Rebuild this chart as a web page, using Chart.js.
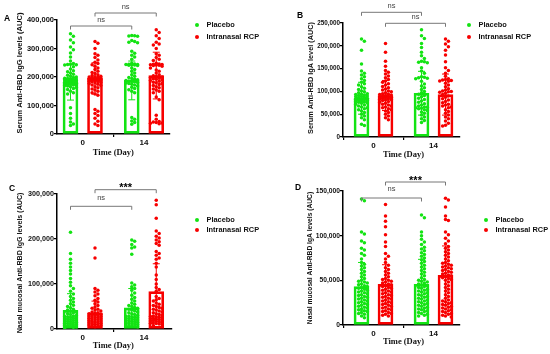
<!DOCTYPE html>
<html><head><meta charset="utf-8">
<script src="https://cdn.jsdelivr.net/npm/chart.js@4.4.1/dist/chart.umd.min.js"></script>
<style>
body{margin:0;background:#fff;width:550px;height:354px;overflow:hidden;position:relative}
canvas{position:absolute;left:0;top:0}
</style></head><body>
<canvas id="cA" width="550" height="354"></canvas>
<canvas id="cB" width="550" height="354"></canvas>
<canvas id="cC" width="550" height="354"></canvas>
<canvas id="cD" width="550" height="354"></canvas>
<script>
// ---------------- DATA ----------------
const groupNames = ['Placebo', 'Intranasal RCP'];
const tickLabels = ['0', '14'];

// Panel A: Serum IgG
const A_placebo0 = [352000,343000,330000,320000,305000,296000,284000,270000,256000,247000,245000,244000,243000,242000,236000,228000,222000,218000,214000,210000,206000,203000,200000,198000,196000,195000,194000,193000,192000,191000,190000,189000,188000,187000,186000,185000,184000,183000,182000,181000,180000,179000,178000,177000,176000,175000,174000,173000,172000,170000,168000,166000,163000,160000,156000,150000,145000,140000,92000,72000,55000,42000,35000,30000];
const A_rcp0 = [325000,318000,300000,282000,276000,268000,260000,252000,247000,243000,238000,232000,226000,220000,216000,212000,208000,205000,203000,201000,200000,199000,198000,197000,196000,195000,194000,193000,192000,191000,190000,189000,188000,187000,186000,185000,184000,183000,181000,179000,177000,175000,172000,170000,166000,162000,158000,154000,150000,145000,140000,136000,86000,80000,72000,65000,55000,45000,35000,30000];
const A_placebo14 = [346000,345000,344000,343000,328000,325000,322000,320000,290000,283000,276000,270000,262000,248000,246000,245000,244000,244000,243000,242000,241000,240000,232000,226000,220000,214000,208000,203000,198000,195000,192000,190000,188000,186000,185000,183000,181000,179000,177000,175000,172000,168000,164000,160000,155000,150000,145000,58000,52000,46000,40000,34000];
const A_rcp14 = [366000,356000,345000,335000,322000,316000,312000,300000,282000,276000,268000,262000,258000,248000,246000,245000,244000,243000,242000,241000,240000,238000,232000,225000,220000,214000,208000,204000,202000,200000,198000,196000,194000,192000,190000,188000,185000,182000,180000,177000,174000,170000,166000,162000,158000,154000,150000,145000,130000,120000,66000,52000,44000,42000,40000,39000,38000,36000];
const A_means = [181000, 195000, 188000, 205000];
const A_sds = [62000, 55000, 68000, 82000];
const A_sig = ['ns', 'ns'];

// Panel B: Serum IgA
const B_placebo0 = [215000,210000,190000,160000,145000,140000,136000,132000,128000,124000,120000,117000,114000,110000,107000,104000,101000,99000,97000,95000,94000,93000,92000,91000,90000,89000,88000,87000,86000,85000,84000,83000,82000,81000,80000,79000,78000,77000,76000,75000,74000,72000,70000,68000,66000,64000,62000,60000,57000,54000,50000,46000,42000,38000,28000,25000];
const B_rcp0 = [205000,186000,166000,155000,146000,142000,138000,134000,130000,126000,123000,120000,117000,114000,111000,108000,105000,103000,101000,99000,97000,95000,94000,93000,92000,91000,90000,89000,88000,87000,86000,85000,84000,83000,82000,81000,80000,78000,76000,74000,72000,70000,68000,66000,64000,62000,60000,57000,54000,50000,46000,42000,38000];
const B_placebo14 = [235000,222000,216000,205000,196000,186000,178000,172000,166000,165000,164000,163000,152000,145000,140000,132000,131000,130000,129000,128000,122000,116000,112000,108000,104000,100000,97000,94000,91000,88000,85000,82000,79000,76000,73000,70000,68000,66000,65000,64000,63000,62000,60000,58000,55000,52000,48000,44000,40000,36000,32000];
const B_rcp14 = [215000,210000,204000,198000,190000,180000,165000,152000,146000,140000,133000,128000,126000,125000,124000,123000,122000,118000,114000,110000,106000,103000,101000,100000,99000,98000,96000,93000,90000,87000,84000,81000,78000,75000,72000,70000,68000,66000,64000,60000,56000,52000,48000,44000,40000,35000,30000,26000,24000];
const B_means = [85000, 91000, 96000, 93000];
const B_sds = [35000, 33000, 48000, 45000];
const B_sig = ['ns', 'ns'];

// Panel C: Nasal mucosal IgG
const C_placebo0 = [215000,168000,155000,146000,138000,130000,122000,112000,104000,96000,90000,84000,78000,72000,68000,64000,60000,56000,53000,50000,47000,44000,42000,40000,38000,36000,34000,32000,30000,29000,28000,27000,26000,25000,24000,23000,22000,21000,20000,19000,18000,17000,16000,15000,14000,13000,12000,11000,10000,9000,8000,7000,6000,5000,4000,3000];
const C_rcp0 = [180000,158000,90000,86000,82000,78000,74000,68000,64000,60000,56000,52000,49000,46000,44000,42000,40000,38000,36000,35000,34000,33000,32000,31000,30000,29000,28000,27000,26000,25000,24000,23000,22000,21000,20000,19000,18000,17000,16000,15000,14000,13000,12000,11000,10000,9000,8000,7000,6000,5000];
const C_placebo14 = [198000,195000,188000,182000,180000,166000,102000,98000,94000,90000,86000,80000,75000,70000,66000,62000,58000,55000,52000,50000,48000,46000,44000,42000,40000,38000,36000,34000,32000,30000,29000,28000,27000,26000,25000,24000,23000,22000,21000,20000,19000,18000,17000,16000,15000,14000,13000,12000,11000,10000,9000,8000,7000,6000,5000];
const C_rcp14 = [286000,276000,246000,218000,212000,206000,202000,198000,194000,190000,186000,172000,168000,164000,158000,155000,146000,138000,120000,110000,100000,92000,88000,84000,72000,68000,65000,62000,58000,55000,52000,50000,48000,46000,44000,42000,40000,38000,36000,34000,32000,30000,29000,28000,27000,26000,25000,24000,23000,22000,21000,20000,19000,18000,17000,16000,15000,14000,13000,12000,11000,10000,8000];
const C_means = [41500, 36000, 47000, 83000];
const C_sds = [37000, 26000, 43000, 62000];
const C_sig = ['ns', '***'];

// Panel D: Nasal mucosal IgA
const D_placebo0 = [141000,139000,104000,102000,94000,92000,86000,84000,80000,78000,74000,70000,68000,66000,64000,62000,60000,58000,56000,54000,52000,50000,49000,48000,47000,46000,45000,44000,43000,42000,41000,40000,39000,38000,37000,36000,35000,34000,33000,32000,31000,30000,29000,28000,27000,26000,25000,24000,23000,22000,21000,20000,19000,18000,17000,16000,15000,14000,13000,12000,10000,8000];
const D_rcp0 = [135000,122000,116000,110000,101000,93000,88000,80000,77000,74000,70000,67000,64000,62000,60000,58000,56000,54000,52000,51000,50000,49000,48000,47000,46000,45000,44000,43000,42000,41000,40000,39000,38000,37000,36000,35000,34000,33000,32000,31000,30000,29000,28000,27000,26000,25000,24000,23000,22000,21000,20000,19000,18000,17000,16000,15000,14000,13000,12000,11000,10000];
const D_placebo14 = [123000,120000,104000,100000,96000,93000,90000,87000,85000,83000,81000,79000,77000,75000,73000,71000,69000,67000,65000,63000,61000,59000,57000,55000,53000,51000,50000,49000,48000,47000,46000,45000,44000,43000,42000,41000,40000,39000,38000,37000,36000,35000,34000,33000,32000,31000,30000,29000,28000,27000,26000,25000,24000,23000,22000,21000,20000,19000,18000,17000,16000,15000,14000,13000,12000,11000,10000];
const D_rcp14 = [142000,140000,132000,122000,118000,117000,104000,101000,97000,94000,91000,88000,86000,84000,82000,80000,78000,76000,74000,72000,70000,69000,68000,67000,66000,65000,64000,63000,62000,61000,60000,59000,58000,57000,56000,55000,54000,53000,52000,51000,50000,48000,46000,44000,42000,40000,38000,36000,34000,32000,30000,28000,27000,26000,25000,24000,23000,22000,21000,20000,19000,18000,17000,16000,15000,14000,13000,12000,11000,10000,9000];
const D_means = [43000, 45500, 45500, 55500];
const D_sds = [27000, 22000, 28000, 33000];
const D_sig = ['ns', '***'];

// ---------------- LAYOUT / STYLE ----------------
const GREEN = '#13e313';
const RED = '#f70000';
const COLORS = [GREEN, RED, GREEN, RED];
const POS = [0, 1, 2.5, 3.5];       // group slots on the x axis
const TICK_POS = [0.5, 3.0];

const panels = [
  { id:'cA', letter:'A', yTitle:'Serum Anti-RBD IgG levels (AUC)', yMax:400000, yStep:100000,
    series:[A_placebo0, A_rcp0, A_placebo14, A_rcp14], means:A_means, sds:A_sds, sig:A_sig,
    L:57, T:20, R:170, B:134, c0:70.5, unit:24.5, tickFont:7.5, titleFont:7.6, titleCY:73,
    letterXY:[7,19], yTitleX:20, xTitleY:153, legendX:197, legendY:[25,37],
    br:{g:26, gl:20, r:13, rl:7} },
  { id:'cB', letter:'B', yTitle:'Serum Anti-RBD IgA level (AUC)', yMax:250000, yStep:50000,
    series:[B_placebo0, B_rcp0, B_placebo14, B_rcp14], means:B_means, sds:B_sds, sig:B_sig,
    L:343, T:23, R:460, B:137, c0:361.5, unit:24, tickFont:6.3, titleFont:7.3, titleCY:78,
    letterXY:[300,16], yTitleX:310.5, xTitleY:155, legendX:469, legendY:[25,37],
    br:{g:12.3, gl:5.5, r:23.3, rl:17} },
  { id:'cC', letter:'C', yTitle:'Nasal mucosal Anti-RBD IgG levels (AUC)', yMax:300000, yStep:100000,
    series:[C_placebo0, C_rcp0, C_placebo14, C_rcp14], means:C_means, sds:C_sds, sig:C_sig,
    L:57, T:194, R:172, B:329, c0:70.5, unit:24.5, tickFont:7.2, titleFont:7.1, titleCY:263,
    letterXY:[12,189], yTitleX:20, xTitleY:346, legendX:197, legendY:[220,230],
    br:{g:206.3, gl:198, r:189.7, rl:184} },
  { id:'cD', letter:'D', yTitle:'Nasal mucosal Anti-RBD IgA levels (AUC)', yMax:150000, yStep:50000,
    series:[D_placebo0, D_rcp0, D_placebo14, D_rcp14], means:D_means, sds:D_sds, sig:D_sig,
    L:343, T:191, R:460, B:325, c0:361.5, unit:24, tickFont:6.7, titleFont:6.7, titleCY:258,
    letterXY:[298,188], yTitleX:310.5, xTitleY:342, legendX:486, legendY:[220,230],
    br:{g:198, gl:189, r:182, rl:177} }
];

const SANS = '"Liberation Sans", Arial, sans-serif';
const SERIF = '"Liberation Serif", "Times New Roman", serif';

// beeswarm layout: horizontal pixel offsets computed from values
function swarm(values, pxPerVal, d, maxOff) {
  const placed = [];
  const offs = new Array(values.length);
  const idx = values.map((v, i) => i).sort((a, b) => values[b] - values[a]);
  const nSteps = 2 * Math.ceil(maxOff / d);
  for (const i of idx) {
    const y = values[i] * pxPerVal;
    let best = 0, bestScore = -1;
    for (let k = 0; k <= nSteps; k++) {
      const o = (k % 2 ? 1 : -1) * Math.ceil(k / 2) * d;
      if (Math.abs(o) > maxOff) continue;
      let minD = Infinity;
      for (const p of placed) {
        const dd = Math.hypot(p.x - o, p.y - y);
        if (dd < minD) minD = dd;
      }
      if (minD >= d) { best = o; bestScore = Infinity; break; }
      if (minD > bestScore) { bestScore = minD; best = o; }
    }
    placed.push({ x: best, y });
    offs[i] = best;
  }
  return offs;
}

function makePanel(p) {
  const W = 40, H = 20;
  const xMin = -(p.c0 - p.L) / p.unit;
  const xMax = (p.R - p.c0) / p.unit;
  const pxPerVal = (p.B - p.T) / p.yMax;

  const barsPlacebo = { type:'bar', order:2, grouped:false, barThickness:15,
    data:[{x:POS[0], y:p.means[0]}, {x:POS[2], y:p.means[2]}],
    backgroundColor:'rgba(255,255,255,0)', borderColor:GREEN, borderWidth:2, borderSkipped:false };
  const barsRcp = { type:'bar', order:2, grouped:false, barThickness:15,
    data:[{x:POS[1], y:p.means[1]}, {x:POS[3], y:p.means[3]}],
    backgroundColor:'rgba(255,255,255,0)', borderColor:RED, borderWidth:2, borderSkipped:false };

  const scatterSets = p.series.map((vals, gi) => {
    const offs = swarm(vals, pxPerVal, 2.9, 6.3);
    return { type:'scatter', order:1,
      data: vals.map((v, i) => ({ x: POS[gi] + offs[i] / p.unit, y: v })),
      backgroundColor: COLORS[gi], borderWidth:0, pointRadius:1.75, pointHoverRadius:1.75 };
  });

  const overlay = {
    id:'overlay',
    afterDatasetsDraw(chart) {
      const ctx = chart.ctx, xs = chart.scales.x, ys = chart.scales.y;
      ctx.save();
      // error bars
      for (let g = 0; g < 4; g++) {
        const cx = xs.getPixelForValue(POS[g]);
        const top = ys.getPixelForValue(p.means[g] + p.sds[g]);
        const bot = ys.getPixelForValue(Math.max(0, p.means[g] - p.sds[g]));
        ctx.strokeStyle = COLORS[g]; ctx.lineWidth = 1;
        ctx.beginPath();
        ctx.moveTo(cx, top); ctx.lineTo(cx, bot);
        ctx.moveTo(cx - 3.5, top); ctx.lineTo(cx + 3.5, top);
        ctx.moveTo(cx - 3.5, bot); ctx.lineTo(cx + 3.5, bot);
        ctx.stroke();
      }
      // significance brackets
      const drawBracket = (g1, g2, y, ly, label) => {
        const x1 = xs.getPixelForValue(POS[g1]), x2 = xs.getPixelForValue(POS[g2]);
        ctx.strokeStyle = '#777'; ctx.lineWidth = 1;
        ctx.beginPath();
        ctx.moveTo(x1, y + 3.5); ctx.lineTo(x1, y); ctx.lineTo(x2, y); ctx.lineTo(x2, y + 3.5);
        ctx.stroke();
        ctx.textAlign = 'center';
        if (label === 'ns') {
          ctx.fillStyle = '#444'; ctx.font = '7.5px ' + SANS; ctx.textBaseline = 'middle';
          ctx.fillText(label, (x1 + x2) / 2, ly);
        } else {
          ctx.fillStyle = '#000'; ctx.font = 'bold 11px ' + SANS; ctx.textBaseline = 'alphabetic';
          ctx.fillText(label, (x1 + x2) / 2, ly + 6.5);
        }
      };
      drawBracket(0, 2, p.br.g, p.br.gl, p.sig[0]);
      drawBracket(1, 3, p.br.r, p.br.rl, p.sig[1]);

      // panel letter
      ctx.fillStyle = '#000'; ctx.font = 'bold 8.5px ' + SANS;
      ctx.textAlign = 'center'; ctx.textBaseline = 'middle';
      ctx.fillText(p.letter, p.letterXY[0], p.letterXY[1]);
      // y title
      ctx.save();
      ctx.translate(p.yTitleX, p.titleCY);
      ctx.rotate(-Math.PI / 2);
      ctx.font = 'bold ' + p.titleFont + 'px ' + SANS; ctx.fillStyle = '#111';
      ctx.fillText(p.yTitle, 0, 0);
      ctx.restore();
      // x title
      ctx.font = 'bold 8.5px ' + SERIF; ctx.fillStyle = '#111';
      ctx.fillText('Time (Day)', (xs.getPixelForValue(TICK_POS[0]) + xs.getPixelForValue(TICK_POS[1])) / 2, p.xTitleY);
      // legend
      ctx.textAlign = 'left';
      ctx.font = 'bold 7.4px ' + SANS;
      for (let i = 0; i < 2; i++) {
        ctx.fillStyle = COLORS[i];
        ctx.beginPath(); ctx.arc(p.legendX, p.legendY[i], 2, 0, Math.PI * 2); ctx.fill();
        ctx.fillStyle = '#111';
        ctx.fillText(groupNames[i], p.legendX + 9.5, p.legendY[i]);
      }
      ctx.restore();
    }
  };

  return new Chart(document.getElementById(p.id), {
    type:'bar',
    data:{ datasets:[barsPlacebo, barsRcp, ...scatterSets] },
    options:{
      responsive:false, animation:false, events:[],
      layout:{ padding:{ left:p.L - W, top:p.T, right:550 - p.R, bottom:354 - p.B - H } },
      plugins:{ legend:{display:false}, tooltip:{enabled:false} },
      scales:{
        x:{ type:'linear', min:xMin, max:xMax, offset:false,
          afterBuildTicks(s){ s.ticks = TICK_POS.map(v => ({value:v})); },
          afterFit(s){ s.height = H; },
          grid:{ drawOnChartArea:false, drawTicks:true, tickLength:3, color:'#000', lineWidth:1.2 },
          border:{ display:true, color:'#000', width:1.5 },
          ticks:{ autoSkip:false, maxRotation:0, padding:1, color:'#111',
            font:{ family:SANS, size:8, weight:'bold' },
            callback:(v, i) => tickLabels[i] } },
        y:{ min:0, max:p.yMax,
          afterFit(s){ s.width = W; },
          grid:{ drawOnChartArea:false, drawTicks:true, tickLength:3, color:'#000', lineWidth:1.2 },
          border:{ display:true, color:'#000', width:1.5 },
          ticks:{ stepSize:p.yStep, padding:0, color:'#111',
            font:{ family:SANS, size:p.tickFont, weight:'bold' },
            callback:(v) => Number(v).toLocaleString('en-US') } }
      }
    },
    plugins:[overlay]
  });
}

panels.forEach(makePanel);
</script>
</body></html>
